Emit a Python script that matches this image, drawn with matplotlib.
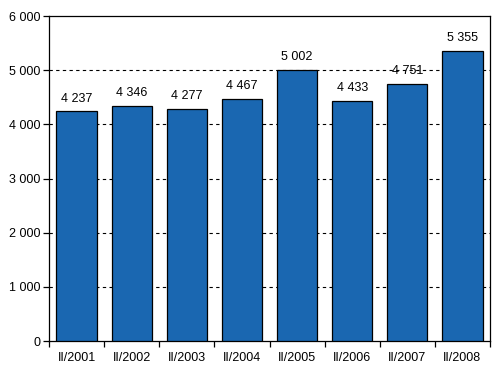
import matplotlib
matplotlib.use("Agg")
import matplotlib.pyplot as plt
from matplotlib.ticker import FuncFormatter, FixedLocator

categories = ["II/2001", "II/2002", "II/2003", "II/2004", "II/2005", "II/2006", "II/2007", "II/2008"]
values = [4237, 4346, 4277, 4467, 5002, 4433, 4751, 5355]
yticks = [0, 1000, 2000, 3000, 4000, 5000, 6000]

plt.rcParams['font.family'] = ['Liberation Sans', 'DejaVu Sans']

fig = plt.figure(figsize=(4.95, 3.77), dpi=100)
ax = fig.add_axes([49/495, 1 - 341/377, (490 - 49)/495, (341 - 16)/377])

def fmt(v, pos=None):
    return f"{int(v):,}".replace(",", " ")

x = list(range(len(categories)))
ax.bar(x, values, width=0.73, color="#1a67b1", edgecolor="black", linewidth=0.9, zorder=3)
for xi, v in zip(x, values):
    ax.annotate(fmt(v), (xi, v), xytext=(0, 5), textcoords="offset points",
                ha="center", va="bottom", fontsize=9, zorder=4)

ax.set_xlim(-0.5, len(categories) - 0.5)
ax.set_ylim(0, 6000)
ax.set_yticks(yticks)
ax.yaxis.set_major_formatter(FuncFormatter(fmt))
ax.set_xticks(x)
ax.set_xticklabels(categories)
ax.xaxis.set_minor_locator(FixedLocator([i - 0.5 for i in range(len(categories) + 1)]))
ax.tick_params(axis="x", which="major", length=0, pad=8, labelsize=9)
ax.tick_params(axis="x", which="minor", length=4, width=0.9, direction="out")
ax.tick_params(axis="y", length=4, width=0.9, direction="out", labelsize=9, pad=2)

for yv in yticks[1:-1]:
    ax.axhline(yv, color="black", linestyle=(0, (3, 3)), linewidth=0.8, zorder=1)

for s in ax.spines.values():
    s.set_color("black")
    s.set_linewidth(0.9)

fig.savefig("out.png", dpi=100)
